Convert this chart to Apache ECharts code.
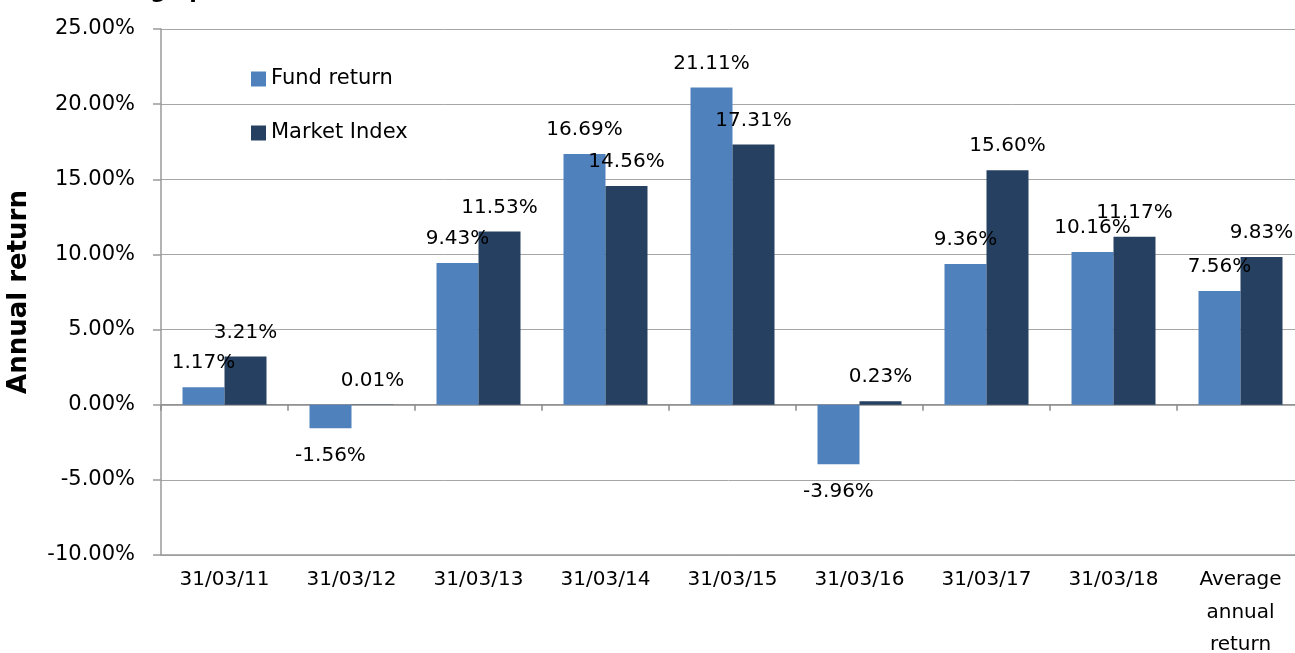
<!DOCTYPE html>
<html>
<head>
<meta charset="utf-8">
<script src="https://cdn.jsdelivr.net/npm/echarts@6/dist/echarts.min.js"></script>
<style>
  html, body { margin: 0; padding: 0; background: #fff; }
  #chart { width: 1295px; height: 653px; }
</style>
</head>
<body>
<div id="chart"></div>
<script>
// values, in percent
const categories = ['31/03/11', '31/03/12', '31/03/13', '31/03/14', '31/03/15', '31/03/16', '31/03/17', '31/03/18', 'Average\nannual\nreturn']
const fundReturn = [1.17, -1.56, 9.43, 16.69, 21.11, -3.96, 9.36, 10.16, 7.56]
const marketIndex = [3.21, 0.01, 11.53, 14.56, 17.31, 0.23, 15.60, 11.17, 9.83]
const yTicks = { min: -10, max: 25, interval: 5 }

const font = 'DejaVu Sans'
const pct = v => v.toFixed(2) + '%'

// negative bars get their label under the bar, like the source
const withLabels = vals => vals.map(v => v < 0
  ? { value: v, label: { position: 'bottom', distance: 18 } }
  : v)

const chart = echarts.init(document.getElementById('chart'))

chart.setOption({
  animation: false,
  textStyle: { fontFamily: font },
  // title is cut off by the top edge in the source, only its bottom shows
  graphic: [{
    type: 'text',
    x: 205,
    y: 3.5,
    style: {
      text: 'Since setting up',
      font: 'bold 22px ' + font,
      fill: '#000',
      align: 'right',
      verticalAlign: 'bottom'
    }
  }],
  legend: {
    orient: 'vertical',
    left: 246,
    top: 63,
    itemWidth: 15,
    itemHeight: 15,
    itemGap: 32,
    icon: 'rect',
    textStyle: { fontSize: 21, lineHeight: 22, color: '#000', fontFamily: font },
    data: ['Fund return', 'Market Index']
  },
  grid: { left: 161, top: 29, width: 1143, height: 526, outerBoundsMode: 'none' },
  xAxis: [{
    type: 'category',
    data: categories,
    axisLine: { onZero: false, lineStyle: { color: '#9a9a9a', width: 1.5 } },
    axisTick: { show: false },
    axisLabel: { color: '#000', fontSize: 20, margin: 9, lineHeight: 32.5, interval: 0 }
  }, {
    type: 'category',
    data: categories,
    position: 'bottom',
    axisLine: { onZero: true, lineStyle: { color: '#8c8c8c', width: 1.5 } },
    axisTick: { show: true, length: 6, lineStyle: { color: '#8c8c8c', width: 1.5 } },
    axisLabel: { show: false }
  }],
  yAxis: {
    type: 'value',
    min: yTicks.min,
    max: yTicks.max,
    interval: yTicks.interval,
    name: 'Annual return',
    nameLocation: 'middle',
    nameGap: 129,
    nameTextStyle: { fontSize: 26, fontWeight: 'bold', color: '#000', fontFamily: font },
    axisLine: { show: true, lineStyle: { color: '#9a9a9a', width: 1.5 } },
    axisTick: { show: true, length: 8, lineStyle: { color: '#9a9a9a', width: 1.5 } },
    axisLabel: { color: '#000', fontSize: 21, margin: 26, formatter: pct },
    splitLine: { show: true, lineStyle: { color: '#a6a6a6', width: 1 } }
  },
  series: [{
    name: 'Fund return',
    type: 'bar',
    xAxisIndex: 0,
    barWidth: 42,
    barGap: '0%',
    itemStyle: { color: '#4F81BD' },
    label: { show: true, position: 'top', distance: 14, color: '#000', fontSize: 20, formatter: p => pct(p.value) },
    data: withLabels(fundReturn)
  }, {
    name: 'Market Index',
    type: 'bar',
    xAxisIndex: 0,
    barWidth: 42,
    barGap: '0%',
    itemStyle: { color: '#254061' },
    label: { show: true, position: 'top', distance: 14, color: '#000', fontSize: 20, formatter: p => pct(p.value) },
    data: withLabels(marketIndex)
  }]
})
</script>
</body>
</html>
